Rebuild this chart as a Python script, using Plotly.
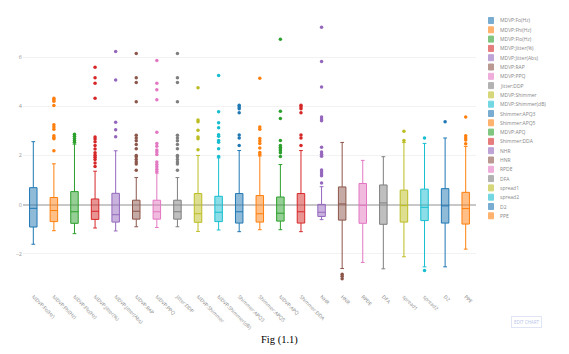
import plotly.graph_objects as go

names = ["MDVP:Fo(Hz)", "MDVP:Fhi(Hz)", "MDVP:Flo(Hz)", "MDVP:Jitter(%)", "MDVP:Jitter(Abs)",
         "MDVP:RAP", "MDVP:PPQ", "Jitter:DDP", "MDVP:Shimmer", "MDVP:Shimmer(dB)",
         "Shimmer:APQ3", "Shimmer:APQ5", "MDVP:APQ", "Shimmer:DDA", "NHR", "HNR",
         "RPDE", "DFA", "spread1", "spread2", "D2", "PPE"]

upper = [2.56, 1.66, 2.46, 1.36, 2.19, 1.10, 1.28, 1.10, 2.00, 1.90, 2.20, 1.98, 1.63, 2.20,
         0.73, 2.53, 1.80, 1.95, 2.53, 2.49, 2.71, 2.37]
q3 = [0.69, 0.29, 0.53, 0.23, 0.46, 0.18, 0.18, 0.18, 0.45, 0.34, 0.45, 0.37, 0.31, 0.45,
      0.01, 0.72, 0.86, 0.80, 0.59, 0.63, 0.65, 0.50]
median = [-0.15, -0.24, -0.29, -0.27, -0.41, -0.27, -0.29, -0.29, -0.37, -0.31, -0.29, -0.37,
          -0.35, -0.29, -0.31, 0.03, -0.03, 0.07, -0.04, -0.11, -0.05, -0.16]
q1 = [-0.91, -0.69, -0.76, -0.60, -0.71, -0.59, -0.59, -0.59, -0.72, -0.69, -0.75, -0.71,
      -0.67, -0.75, -0.48, -0.63, -0.76, -0.80, -0.71, -0.65, -0.75, -0.79]
lower = [-1.61, -1.06, -1.18, -0.95, -1.07, -0.90, -0.93, -0.90, -1.09, -1.03, -1.10, -1.02,
         -1.02, -1.10, -0.61, -2.60, -2.35, -2.61, -2.12, -2.53, -2.53, -1.81]

outliers = [
    [],
    [4.33, 4.27, 4.20, 4.03, 3.25, 3.16, 3.07, 2.80, 2.73, 2.68, 2.19],
    [2.86, 2.78, 2.69, 2.61, 2.54],
    [5.59, 5.16, 4.94, 4.33, 2.75, 2.67, 2.56, 2.41, 2.26, 2.11, 2.01, 1.93, 1.84, 1.69, 1.55],
    [6.23, 5.07, 3.35, 3.05, 2.76],
    [6.15, 5.16, 4.97, 4.18, 2.82, 2.71, 2.60, 2.45, 2.27, 2.00, 1.95, 1.84, 1.73, 1.65, 1.40],
    [5.86, 4.94, 4.67, 4.27, 2.94, 2.49, 2.37, 2.22, 2.14, 2.04, 1.73, 1.63, 1.54, 1.44, 1.35],
    [6.15, 5.16, 4.97, 4.18, 2.82, 2.71, 2.60, 2.45, 2.27, 2.00, 1.95, 1.84, 1.73, 1.65, 1.40],
    [4.75, 3.44, 3.37, 3.03, 2.75, 2.68, 2.23],
    [5.25, 3.78, 3.33, 3.13, 2.84, 2.78, 2.61, 2.54, 2.27, 1.96],
    [4.04, 3.97, 3.90, 3.74, 2.83, 2.71, 2.41],
    [5.14, 3.16, 3.07, 2.69, 2.59, 2.49, 2.30, 2.12, 2.04],
    [6.73, 3.80, 3.50, 2.61, 2.41, 2.33, 2.26, 2.19, 2.11, 1.96],
    [4.04, 3.97, 3.90, 3.74, 2.83, 2.71, 2.41],
    [7.21, 5.82, 4.78, 3.56, 3.48, 3.41, 2.33, 2.14, 2.05, 1.97, 1.41, 1.33, 1.25, 1.17, 0.88],
    [-2.83, -2.91, -3.01],
    [],
    [],
    [2.98, 2.61],
    [2.71, -2.68],
    [3.37],
    [3.56, 2.80, 2.71, 2.63, 2.48],
]

ytick_vals = [-2, 0, 2, 4, 6]
caption = "Fig (1.1)"

colors = ["#1f77b4", "#ff7f0e", "#2ca02c", "#d62728", "#9467bd",
          "#8c564b", "#e377c2", "#7f7f7f", "#bcbd22", "#17becf"]

W, H = 569, 354
L, R, T, B = 23, 93, 19, 67
pw, ph = W - L - R, H - T - B


def px_to_paper(x, y):
    return (x - L) / pw, (H - B - y) / ph


fig = go.Figure()
for i, n in enumerate(names):
    c = colors[i % len(colors)]
    fig.add_trace(go.Box(
        x=[n], q1=[q1[i]], median=[median[i]], q3=[q3[i]],
        lowerfence=[lower[i]], upperfence=[upper[i]],
        name=n, marker_color=c, line=dict(color=c, width=1),
        boxpoints=False, showlegend=False, hoverinfo="y"))
    if outliers[i]:
        fig.add_trace(go.Scatter(
            x=[n] * len(outliers[i]), y=outliers[i], mode="markers",
            marker=dict(color=c, size=3.5), showlegend=False, hoverinfo="y"))

shapes = []
annotations = []
# custom compact legend
for i, n in enumerate(names):
    c = colors[i % len(colors)]
    yc = 20.5 + i * 9.3
    x0, y0 = px_to_paper(488.5, yc - 3)
    x1, y1 = px_to_paper(493.5, yc + 3)
    shapes.append(dict(type="rect", xref="paper", yref="paper", x0=x0, x1=x1, y0=y1, y1=y0,
                       line=dict(color=c, width=1), fillcolor=c, opacity=0.6, layer="above"))
    tx, ty = px_to_paper(498, yc)
    annotations.append(dict(text=n, xref="paper", yref="paper", x=tx, y=ty,
                            xanchor="left", yanchor="middle", showarrow=False,
                            font=dict(size=5, color="#888", family="Open Sans")))

cx, cy = px_to_paper(279, 340)
annotations.append(dict(text=caption, xref="paper", yref="paper", x=cx, y=cy,
                        xanchor="center", yanchor="middle", showarrow=False,
                        font=dict(size=10.5, color="#000", family="Liberation Serif")))
ex, ey = px_to_paper(526.5, 321.5)
annotations.append(dict(text="EDIT CHART", xref="paper", yref="paper", x=ex, y=ey,
                        xanchor="center", yanchor="middle", showarrow=False,
                        font=dict(size=4.5, color="#b8c4e8", family="Open Sans"),
                        bordercolor="#dfe5f5", borderwidth=1, borderpad=2))

fig.update_layout(
    width=W, height=H,
    margin=dict(l=L, r=R, t=T, b=B),
    paper_bgcolor="white", plot_bgcolor="white",
    boxgap=0.48,
    showlegend=False,
    font=dict(family="Open Sans", size=5, color="#999"),
    xaxis=dict(type="category", categoryorder="array", categoryarray=names,
               tickangle=45, tickfont=dict(size=5, color="#8a8a8a"),
               showgrid=False, zeroline=False, showline=False,
               ticks="outside", ticklen=4, tickcolor="rgba(0,0,0,0)",
               range=[-0.5, len(names) - 0.5]),
    yaxis=dict(range=[-3.35, 7.55], tickvals=ytick_vals, tickfont=dict(size=5.5, color="#999"),
               showgrid=True, gridcolor="#f2f2f2", gridwidth=1,
               zeroline=True, zerolinecolor="#c8c8c8", zerolinewidth=2,
               showline=False, ticks=""),
    shapes=shapes,
    annotations=annotations,
)

fig.write_html("out.html")
